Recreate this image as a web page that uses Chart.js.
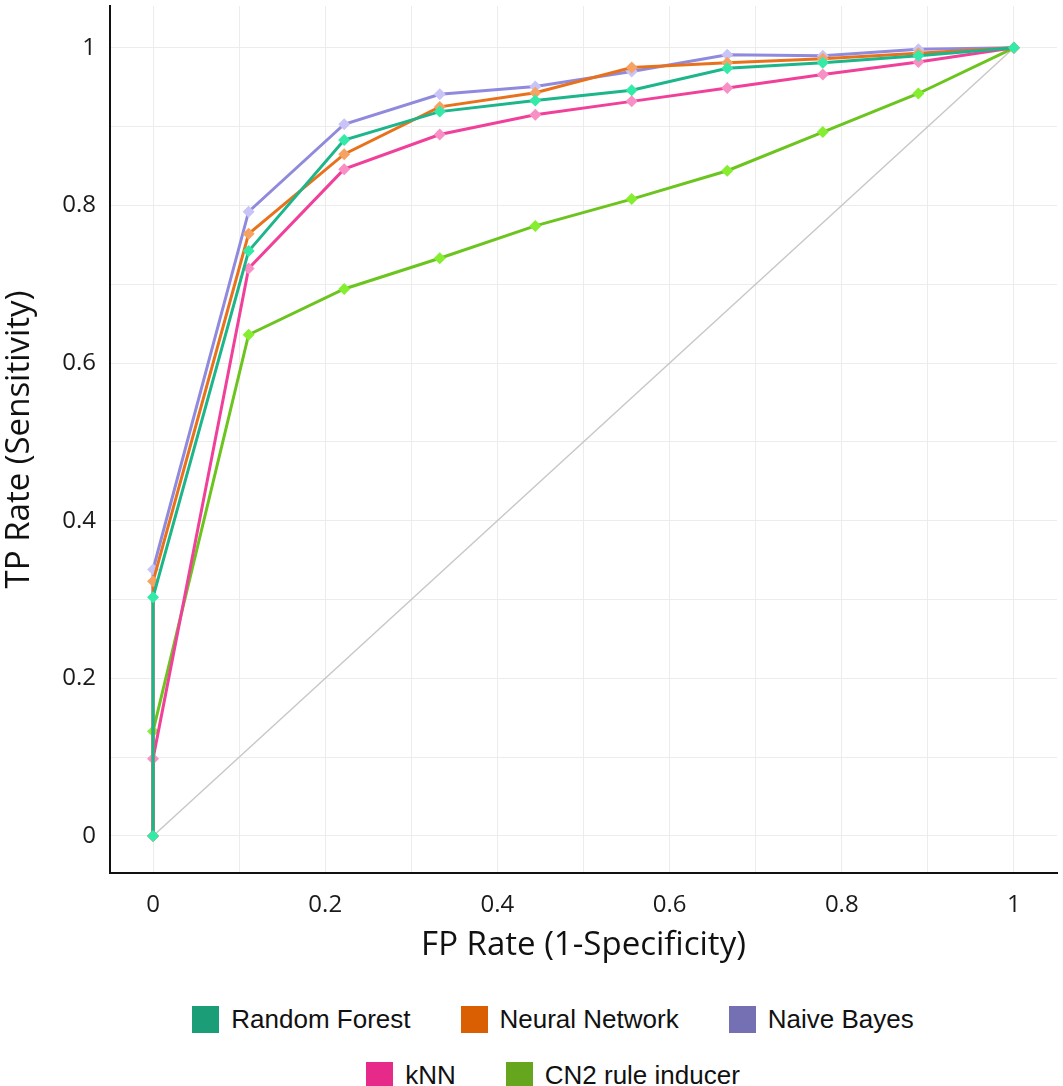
<!DOCTYPE html>
<html>
<head>
<meta charset="utf-8">
<script src="https://cdn.jsdelivr.net/npm/chart.js@4.4.1/dist/chart.umd.min.js"></script>
<style>
  html, body { margin: 0; padding: 0; background: #fff; }
  #wrap { position: relative; width: 1063px; height: 1086px; }
  #roc { position: absolute; left: 0; top: 0; }
  #legend {
    position: absolute; left: 153px; top: 999px; width: 800px;
    display: flex; flex-wrap: wrap; justify-content: center; row-gap: 16px;
    font-family: "Liberation Sans", Arial, sans-serif; font-size: 26px; color: #111;
  }
  #legend .item { display: flex; align-items: center; height: 40px; margin: 0 25px; }
  #legend .box { width: 27px; height: 27px; margin-right: 12px; }
</style>
</head>
<body>
<div id="wrap">
  <canvas id="roc" width="1063" height="965"></canvas>
  <div id="legend"></div>
</div>
<script>
// ROC curves, FP rate thresholds shared by all classifiers
var fpr = [0, 0, 0.111, 0.222, 0.333, 0.444, 0.556, 0.667, 0.778, 0.889, 1];

var randomForest  = [0, 0.303, 0.742, 0.883, 0.919, 0.933, 0.946, 0.974, 0.981, 0.990, 1];
var neuralNetwork = [0, 0.323, 0.764, 0.865, 0.925, 0.943, 0.975, 0.981, 0.986, 0.993, 1];
var naiveBayes    = [0, 0.338, 0.792, 0.903, 0.941, 0.951, 0.970, 0.991, 0.990, 0.998, 1];
var knn           = [0, 0.098, 0.720, 0.846, 0.890, 0.915, 0.932, 0.949, 0.966, 0.982, 1];
var cn2           = [0, 0.133, 0.636, 0.694, 0.733, 0.774, 0.808, 0.844, 0.893, 0.942, 1];

var diagonalX = [0, 1];
var diagonalY = [0, 1];

var seriesNames = ['Random Forest', 'Neural Network', 'Naive Bayes', 'kNN', 'CN2 rule inducer'];
var seriesValues = [randomForest, neuralNetwork, naiveBayes, knn, cn2];
var legendColors = ['#1b9e77', '#d95f02', '#7570b3', '#e7298a', '#66a61e'];
var lineColors   = ['#1db58a', '#e8721c', '#908ade', '#f0409a', '#6cc41e'];
var pointColors  = ['#33eaa8', '#f6a262', '#c9c4f8', '#f890c6', '#86ee30'];

var gridSteps = [0, 0.1, 0.2, 0.3, 0.4, 0.5, 0.6, 0.7, 0.8, 0.9, 1];
var tickLabels = ['0', '', '0.2', '', '0.4', '', '0.6', '', '0.8', '', '1'];

function pts(xs, ys) { return xs.map(function (x, i) { return { x: x, y: ys[i] }; }); }

var datasets = seriesValues.map(function (vals, i) {
    return {
        label: seriesNames[i],
        data: pts(fpr, vals),
        borderColor: lineColors[i],
        backgroundColor: pointColors[i],
        borderWidth: 3,
        pointStyle: 'rectRot',
        pointRadius: 6,
        pointBorderWidth: 0,
        pointBackgroundColor: pointColors[i],
        tension: 0
    };
});
datasets.push({
    label: 'diagonal',
    data: pts(diagonalX, diagonalY),
    borderColor: '#c8c8c8',
    borderWidth: 1.5,
    pointRadius: 0,
    tension: 0
});

function fixTicks(axis) { axis.ticks = gridSteps.map(function (v) { return { value: v }; }); }
function labelFor(v) {
    var i = gridSteps.findIndex(function (g) { return Math.abs(g - v) < 1e-6; });
    return i < 0 ? '' : tickLabels[i];
}

var font = '"Open Sans", "Noto Sans", sans-serif';

new Chart(document.getElementById('roc'), {
    type: 'line',
    data: { datasets: datasets },
    options: {
        responsive: false,
        animation: false,
        layout: { padding: { top: -5, left: 0, right: 0, bottom: 0 } },
        plugins: { legend: { display: false }, tooltip: { enabled: false } },
        scales: {
            x: {
                type: 'linear', min: -0.05, max: 1.05,
                afterBuildTicks: fixTicks,
                afterFit: function (a) { a.height = 92; a.paddingLeft = 0; a.paddingRight = 0; },
                grid: { color: '#ececec', lineWidth: 1, drawTicks: false },
                border: { color: '#111', width: 2 },
                ticks: { padding: 18, autoSkip: false, maxRotation: 0, color: '#1a1a1a',
                         font: { family: font, size: 24 }, callback: labelFor },
                title: { display: true, text: 'FP Rate (1-Specificity)', color: '#111',
                         font: { family: font, size: 33 }, padding: { top: 4, bottom: 0 } }
            },
            y: {
                type: 'linear', min: -0.047, max: 1.053,
                afterBuildTicks: fixTicks,
                afterFit: function (a) { a.width = 110; a.paddingTop = 0; a.paddingBottom = 0; },
                grid: { color: '#ececec', lineWidth: 1, drawTicks: false },
                border: { color: '#111', width: 2 },
                ticks: { padding: 14, autoSkip: false, color: '#1a1a1a',
                         font: { family: font, size: 24 }, callback: labelFor },
                title: { display: true, text: 'TP Rate (Sensitivity)', color: '#111',
                         font: { family: font, size: 33 }, padding: { top: 0, bottom: 6 } }
            }
        }
    }
});

// legend below the chart, wraps into 3 + 2 like the original
var legend = document.getElementById('legend');
seriesNames.forEach(function (name, i) {
    var item = document.createElement('div');
    item.className = 'item';
    var box = document.createElement('span');
    box.className = 'box';
    box.style.background = legendColors[i];
    var txt = document.createElement('span');
    txt.textContent = name;
    item.appendChild(box);
    item.appendChild(txt);
    legend.appendChild(item);
});
</script>
</body>
</html>
